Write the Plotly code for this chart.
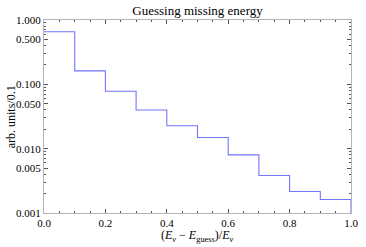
import plotly.graph_objects as go
import numpy as np

bin_edges = [0.0, 0.1, 0.2, 0.3, 0.4, 0.5, 0.6, 0.7, 0.8, 0.9, 1.0]
bin_values = [0.656, 0.162, 0.078, 0.040, 0.0227, 0.0149, 0.0080, 0.00383, 0.00216, 0.00162]

y_major = [0.001, 0.005, 0.01, 0.05, 0.1, 0.5, 1.0]
y_major_text = ["0.001", "0.005", "0.010", "0.050", "0.100", "0.500", "1.000"]
x_major = [0.0, 0.2, 0.4, 0.6, 0.8, 1.0]
x_major_text = ["0.0", "0.2", "0.4", "0.6", "0.8", "1.0"]

y_min, y_max = 0.001, 1.0

xs = list(bin_edges) + [bin_edges[-1]]
ys = list(bin_values) + [bin_values[-1], y_min]

y_minor = []
for d in [0.001, 0.01, 0.1]:
    for m in range(2, 10):
        if m != 5:
            y_minor.append(d * m)
x_minor = [round(v, 2) for v in np.arange(0.05, 1.0, 0.05) if round(v, 2) not in x_major]

fig = go.Figure()
fig.add_trace(go.Scatter(x=xs, y=ys, mode="lines", line=dict(shape="hv", color="#7373ff", width=1.1),
                         hoverinfo="skip", showlegend=False))

font = "'Liberation Serif', 'Times New Roman', Times, serif"
frame = "#b4b4b4"
fig.update_layout(
    width=366, height=247,
    margin=dict(l=44, r=8, t=20, b=34),
    paper_bgcolor="white", plot_bgcolor="white",
    hovermode=False,
    font=dict(family=font, size=11, color="black"),
    title=dict(text="Guessing missing energy", x=0.5, xref="paper", xanchor="center",
               y=1, yref="paper", yanchor="bottom", pad=dict(b=5),
               font=dict(family=font, size=13, color="black")),
    xaxis=dict(range=[0, 1], tickvals=x_major, ticktext=x_major_text, ticks="inside", ticklen=4,
               tickcolor="#555555", showline=True, linecolor=frame, linewidth=1, mirror="allticks",
               showgrid=False, zeroline=False, ticklabeloverflow="allow",
               tickfont=dict(family=font, size=11),
               minor=dict(tickvals=x_minor, ticks="inside", ticklen=2, tickcolor="#555555", showgrid=False)),
    yaxis=dict(type="log", range=[np.log10(y_min), np.log10(y_max)], tickvals=y_major, ticktext=y_major_text,
               ticks="inside", ticklen=4, tickcolor="#555555", showline=True, linecolor=frame, linewidth=1,
               mirror="allticks", showgrid=False, zeroline=False, ticklabeloverflow="allow",
               tickfont=dict(family=font, size=11),
               minor=dict(tickvals=y_minor, ticks="inside", ticklen=2, tickcolor="#555555", showgrid=False)),
    annotations=[
        dict(text="(<i>E</i><sub><i>ν</i></sub> − <i>E</i><sub>guess</sub>)/<i>E</i><sub><i>ν</i></sub>",
             x=0.5, xref="paper", xanchor="center", y=-0.068, yref="paper", yanchor="top",
             showarrow=False, font=dict(family=font, size=12, color="black")),
        dict(text="arb. units/0.1", x=-0.108, xref="paper", xanchor="center", y=0.5, yref="paper",
             yanchor="middle", textangle=-90, showarrow=False, font=dict(family=font, size=12, color="black")),
    ],
)
fig.write_html("out.html", config={"displayModeBar": False, "staticPlot": True},
               post_script="document.body.style.margin='0';document.body.style.overflow='hidden';")
